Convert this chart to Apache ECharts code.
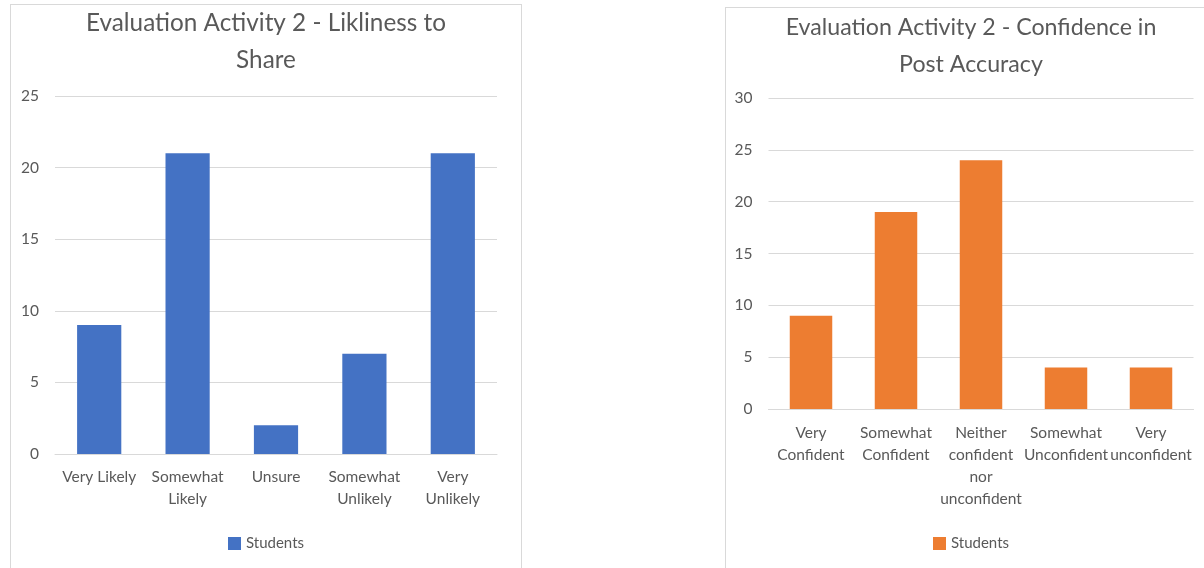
<!DOCTYPE html>
<html lang="en">
<head>
    <meta charset="UTF-8">
    <title>Evaluation Activity 2</title>
    <script src="https://cdn.jsdelivr.net/npm/echarts@6.0.0/dist/echarts.min.js"></script>
    <style>
        body {
            margin: 0;
            background: #ffffff;
            overflow: hidden;
        }
        .chart {
            position: absolute;
            border: 1px solid #d9d9d9;
        }
        #chartLeft {
            left: 10px;
            top: 4px;
            width: 510px;
            height: 580px;
        }
        #chartRight {
            left: 725px;
            top: 7px;
            width: 490px;
            height: 580px;
        }
    </style>
</head>
<body>
    <div id="chartLeft" class="chart"></div>
    <div id="chartRight" class="chart"></div>
    <script>
        // left chart data
        var shareCategories = ['Very Likely', 'Somewhat\nLikely', 'Unsure', 'Somewhat\nUnlikely', 'Very\nUnlikely'];
        var shareStudents = [9, 21, 2, 7, 21];

        // right chart data
        var confidenceCategories = ['Very\nConfident', 'Somewhat\nConfident', 'Neither\nconfident\nnor\nunconfident', 'Somewhat\nUnconfident', 'Very\nunconfident'];
        var confidenceStudents = [9, 19, 24, 4, 4];

        var fontFamily = 'Lato, sans-serif';
        var textColor = '#595959';

        function makeOption(title, titleSize, categories, values, color, grid, yMax, titleTop, legendTop, labelMargin) {
            return {
                animation: false,
                title: {
                    text: title,
                    left: 'center',
                    top: titleTop,
                    textStyle: {
                        fontFamily: fontFamily,
                        fontSize: titleSize,
                        fontWeight: 'normal',
                        color: textColor,
                        lineHeight: 37
                    }
                },
                legend: {
                    top: legendTop,
                    left: 'center',
                    icon: 'rect',
                    itemWidth: 13,
                    itemHeight: 13,
                    itemGap: 4,
                    textStyle: {
                        fontFamily: fontFamily,
                        fontSize: 15,
                        color: textColor
                    },
                    data: ['Students']
                },
                grid: grid,
                xAxis: {
                    type: 'category',
                    data: categories,
                    axisLine: { lineStyle: { color: '#d9d9d9' } },
                    axisTick: { show: false },
                    axisLabel: {
                        interval: 0,
                        margin: labelMargin,
                        fontFamily: fontFamily,
                        fontSize: 15.5,
                        lineHeight: 22,
                        color: textColor
                    }
                },
                yAxis: {
                    type: 'value',
                    min: 0,
                    max: yMax,
                    interval: 5,
                    axisLine: { show: false },
                    axisTick: { show: false },
                    splitLine: { lineStyle: { color: '#d9d9d9' } },
                    axisLabel: {
                        margin: 16,
                        fontFamily: fontFamily,
                        fontSize: 15.5,
                        color: textColor
                    }
                },
                series: [{
                    name: 'Students',
                    type: 'bar',
                    barWidth: '50%',
                    itemStyle: { color: color },
                    data: values
                }]
            };
        }

        var left = echarts.init(document.getElementById('chartLeft'));
        left.setOption(makeOption(
            'Evaluation Activity 2 - Likliness to\nShare', 24.3,
            shareCategories, shareStudents, '#4472c4',
            { left: 44, top: 91, width: 442, height: 358 },
            25, -5, 526, 12
        ));

        var right = echarts.init(document.getElementById('chartRight'));
        right.setOption(makeOption(
            'Evaluation Activity 2 - Confidence in\nPost Accuracy', 23.2,
            confidenceCategories, confidenceStudents, '#ed7d31',
            { left: 42.5, top: 90, width: 425, height: 311 },
            30, -4, 523, 13
        ));
    </script>
</body>
</html>
